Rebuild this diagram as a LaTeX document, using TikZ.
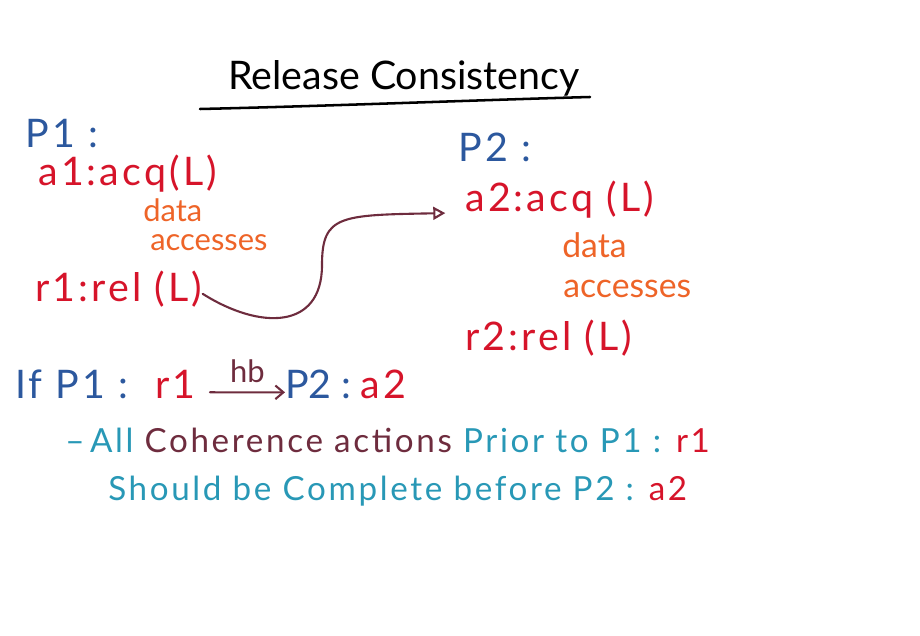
\documentclass[tikz,border=0pt]{standalone}
\usepackage{fontspec}
\setmainfont{Lato}
\newfontfamily\penfont[LetterSpace=8]{Lato}
\usetikzlibrary{positioning, arrows.meta}
\definecolor{penblue}{RGB}{44,88,158}
\definecolor{penred}{RGB}{214,20,42}
\definecolor{penorange}{RGB}{238,100,40}
\definecolor{penmaroon}{RGB}{110,44,62}
\definecolor{penteal}{RGB}{40,152,182}
\tikzset{
    handtext/.style={anchor=base west, inner sep=0pt, font=\penfont\fontsize{28}{32}\selectfont},
    titletext/.style={handtext, text=black, font=\fontsize{28}{32}\selectfont},
    procname/.style={handtext, text=penblue},
    lockop/.style={handtext, text=penred},
    accnote/.style={handtext, text=penorange, font=\fontsize{22}{26}\selectfont},
    remark/.style={handtext, text=penteal, font=\penfont\fontsize{23.6}{28}\selectfont},
    relarrow/.style={draw=penmaroon, line width=1.5pt, -{Triangle[open, length=3mm, width=3.2mm]}},
    hbarrow/.style={draw=penmaroon, line width=1.5pt, -{Straight Barb[length=2mm, width=3.4mm]}},
}

\begin{document}
\begin{tikzpicture}[x=0.025cm, y=-0.025cm, line cap=round]
\useasboundingbox (0,0) rectangle (920,636);

% title and underline
\node[titletext] (title) at (228,90) {Release Consistency};
\coordinate (ulL) at (200,109);
\coordinate (ulR) at (590,97);
\draw[black, line width=1.8pt] (ulL) .. controls (330,106) and (480,100) .. (ulR);

% P1 column
\node[procname] (p1) at (25,148) {P1 :};
\node[lockop] (acq1) at (38,186) {a1:acq(L)};
\node[accnote] (data1) at (143,222) {data};
\node[accnote] (acc1) at (150,251) {accesses};
\node[lockop] (rel1) at (35,302) {r1:rel (L)};

% P2 column
\node[procname] (p2) at (458,162) {P2 :};
\node[lockop] (acq2) at (465,212) {a2:acq (L)};
\node[accnote, font=\fontsize{24}{28}\selectfont] (data2) at (562,258) {data};
\node[accnote, font=\fontsize{24}{28}\selectfont] (acc2) at (563,298) {accesses};
\node[lockop] (rel2) at (465,350) {r2:rel (L)};

% release -> acquire
\draw[relarrow, shorten >=14pt] ([yshift=-3pt]rel1.east) .. controls (260,330) and (322,330) .. (322,265)
    .. controls (322,215) and (340,215) .. ([yshift=-9pt]acq2.west);

% happens-before condition
\node[procname] (ifp1) at (15,398) {If P1 :};
\node[lockop] (r1ref) at (155,398) {r1};
\node[procname, font=\fontsize{28}{32}\selectfont] (p2ref) at (285,398) {P2 :};
\node[lockop] (a2ref) at (360,398) {a2};
\draw[hbarrow] ([yshift=-6pt,xshift=10pt]r1ref.east) -- node[above=3pt, text=penmaroon, font=\fontsize{22}{26}\selectfont] (hb) {hb} ([yshift=-6pt]p2ref.west);

% consequence
\node[remark] (rule1) at (65,452) {–\,All \textcolor{penmaroon}{Coherence actions} Prior to P1 : \textcolor{penred}{r1}};
\node[remark] (rule2) at (108,500) {Should be Complete before P2 : \textcolor{penred}{a2}};

\end{tikzpicture}
\end{document}
